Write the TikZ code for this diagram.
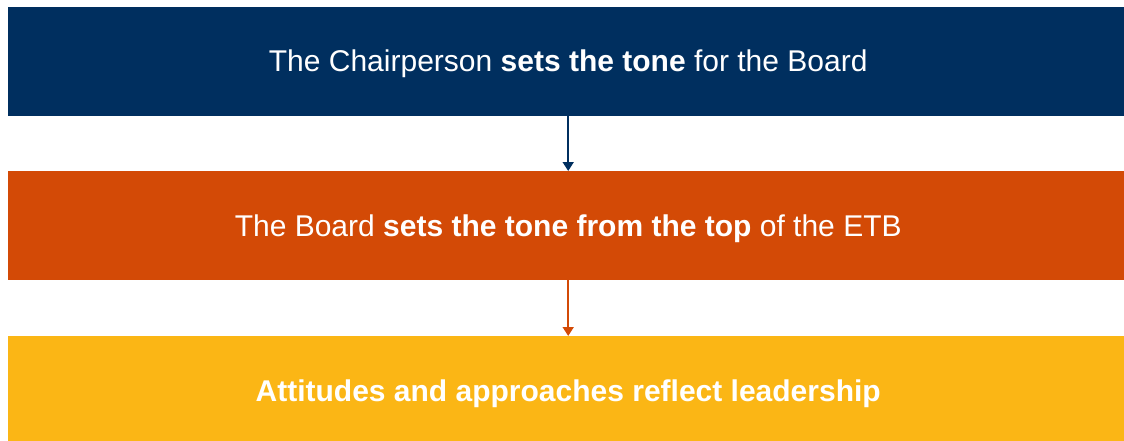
\documentclass[tikz,border=0pt]{standalone}
\usepackage{fontspec}
\setmainfont{Liberation Sans}
\usetikzlibrary{arrows.meta}
\definecolor{cblue}{RGB}{0,47,95}
\definecolor{corange}{RGB}{211,74,6}
\definecolor{cyellow}{RGB}{251,182,21}
\newcommand{\dropby}[2]{\raisebox{-#1}[\height][\depth]{#2}}
\begin{document}
\begin{tikzpicture}[x=1pt,y=-1pt,
  band/.style={minimum width=1120pt,minimum height=109pt,inner sep=0pt,anchor=north west,text=white,font=\fontsize{30}{34}\selectfont},
  conn/.style={line width=1.6pt,-{Triangle[length=9pt,width=11pt]}}]
\clip (0,0) rectangle (1124,441);
\useasboundingbox (0,0) rectangle (1124,441);
\node[band,fill=cblue] (b1) at (8,7) {\dropby{2.5pt}{The Chairperson \textbf{sets the tone} for the Board}};
\node[band,fill=corange,minimum height=109pt] (b2) at (8,171) {\dropby{3.5pt}{The Board \textbf{sets the tone from the top} of the ETB}};
\node[band,fill=cyellow,minimum height=106pt] (b3) at (8,336) {\dropby{4.5pt}{\textbf{Attitudes and approaches reflect leadership}}};
\draw[conn,cblue] (b1.south) -- (b2.north);
\draw[conn,corange] (b2.south) -- (b3.north);
\end{tikzpicture}
\end{document}
